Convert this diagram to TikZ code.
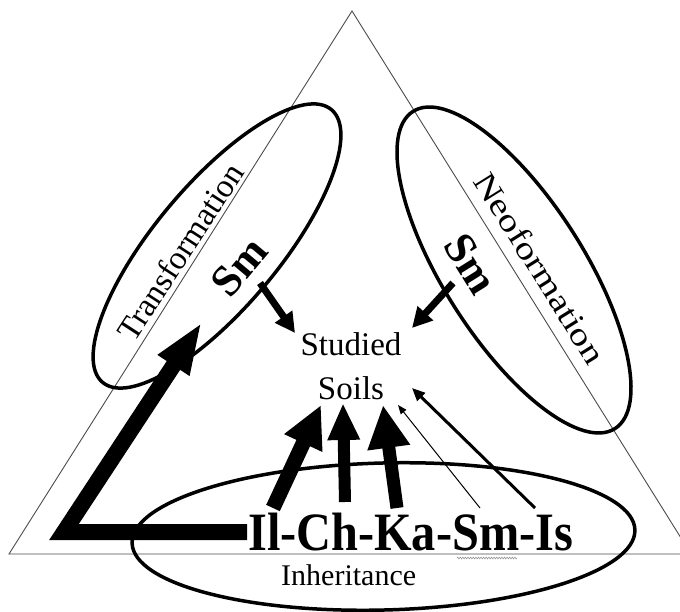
\documentclass[tikz,border=0pt]{standalone}
\usepackage{fontspec}
\setmainfont{Liberation Serif}
\usetikzlibrary{arrows.meta,decorations.pathmorphing}
\begin{document}
\begin{tikzpicture}[x=1pt,y=1pt,
  ring/.style={line width=3.5pt},
  edge/.style={line width=0.9pt, black!70},
  lbl/.style={inner sep=0pt},
  fatarrow/.style args={#1/#2/#3}{line width=#1, -{Triangle[length=#2,width=#3]}},
]
\useasboundingbox (0,0) rectangle (680,-612);
\clip (0,0) rectangle (680,-612);
\fill[white] (0,0) rectangle (680,-612);
% triangle
\draw[edge] (9,-554) -- (352,-11) -- (691,-554) -- cycle;
% ellipses
\draw[ring, rotate around={50:(217,-246)}] (217,-246) ellipse [x radius=178pt, y radius=62pt];
\draw[ring, rotate around={-57.5:(514,-270)}] (514,-270) ellipse [x radius=188pt, y radius=70pt];
\draw[ring, rotate around={1.5:(383.5,-536.5)}] (383.5,-536.5) ellipse [x radius=251.5pt, y radius=73.5pt];
% texts
\node[lbl, rotate=57, font=\fontsize{33}{33}\selectfont] (trans) at (180,-252) {Transformation};
\node[lbl, rotate=-58, font=\fontsize{32}{32}\selectfont] (neo) at (540,-268) {\scalebox{1.22}[1]{Neoformation}};
\node[lbl, rotate=50, font=\bfseries\fontsize{44}{44}\selectfont] (smL) at (239,-267) {Sm};
\node[lbl, rotate=-58, font=\bfseries\fontsize{44}{44}\selectfont] (smR) at (471,-264) {Sm};
\node[lbl, align=center, font=\fontsize{33}{44}\selectfont] (soils) at (351,-366) {Studied\\Soils};
\node[lbl, anchor=base west, font=\bfseries\fontsize{54}{54}\selectfont] (seq) at (248,-550) {\scalebox{0.895}[1]{Il-Ch-Ka-Sm-Is}};
\node[lbl, anchor=base west, font=\fontsize{30}{30}\selectfont] (inh) at (281,-585) {Inheritance};
% squiggle under Sm
\coordinate (sq1) at (457,-558);
\coordinate (sq2) at (517,-558);
\draw[black!45, line width=0.5pt, decorate, decoration={zigzag, amplitude=0.9pt, segment length=2.6pt}] (sq1) -- (sq2);
% arrow end points
\coordinate (Lstart) at (247,-532);
\coordinate (Lcorner) at (64,-532);
\coordinate (Ltip) at (202,-322);
\coordinate (a1s) at (273,-508); \coordinate (a1t) at (321,-405);
\coordinate (a2s) at (345,-502); \coordinate (a2t) at (343,-403);
\coordinate (a3s) at (397,-508); \coordinate (a3t) at (383,-405);
\coordinate (a4s) at (480,-508); \coordinate (a4t) at (398,-405);
\coordinate (a5s) at (535,-508); \coordinate (a5t) at (412,-388);
\coordinate (b1s) at (260,-283); \coordinate (b1t) at (295,-333);
\coordinate (b2s) at (453,-283); \coordinate (b2t) at (412,-328);
% arrows
\draw[fatarrow=16pt/52pt/34pt, line join=miter] (Lstart) -- (Lcorner) -- (Ltip);
\draw[fatarrow=15pt/42pt/39pt] (a1s) -- (a1t);
\draw[fatarrow=12pt/37pt/30pt] (a2s) -- (a2t);
\draw[fatarrow=13pt/43pt/40pt] (a3s) -- (a3t);
\draw[fatarrow=1pt/9pt/7pt] (a4s) -- (a4t);
\draw[fatarrow=3pt/13pt/11pt] (a5s) -- (a5t);
\draw[fatarrow=7pt/20pt/20pt] (b1s) -- (b1t);
\draw[fatarrow=7pt/20pt/20pt] (b2s) -- (b2t);
\end{tikzpicture}
\end{document}
